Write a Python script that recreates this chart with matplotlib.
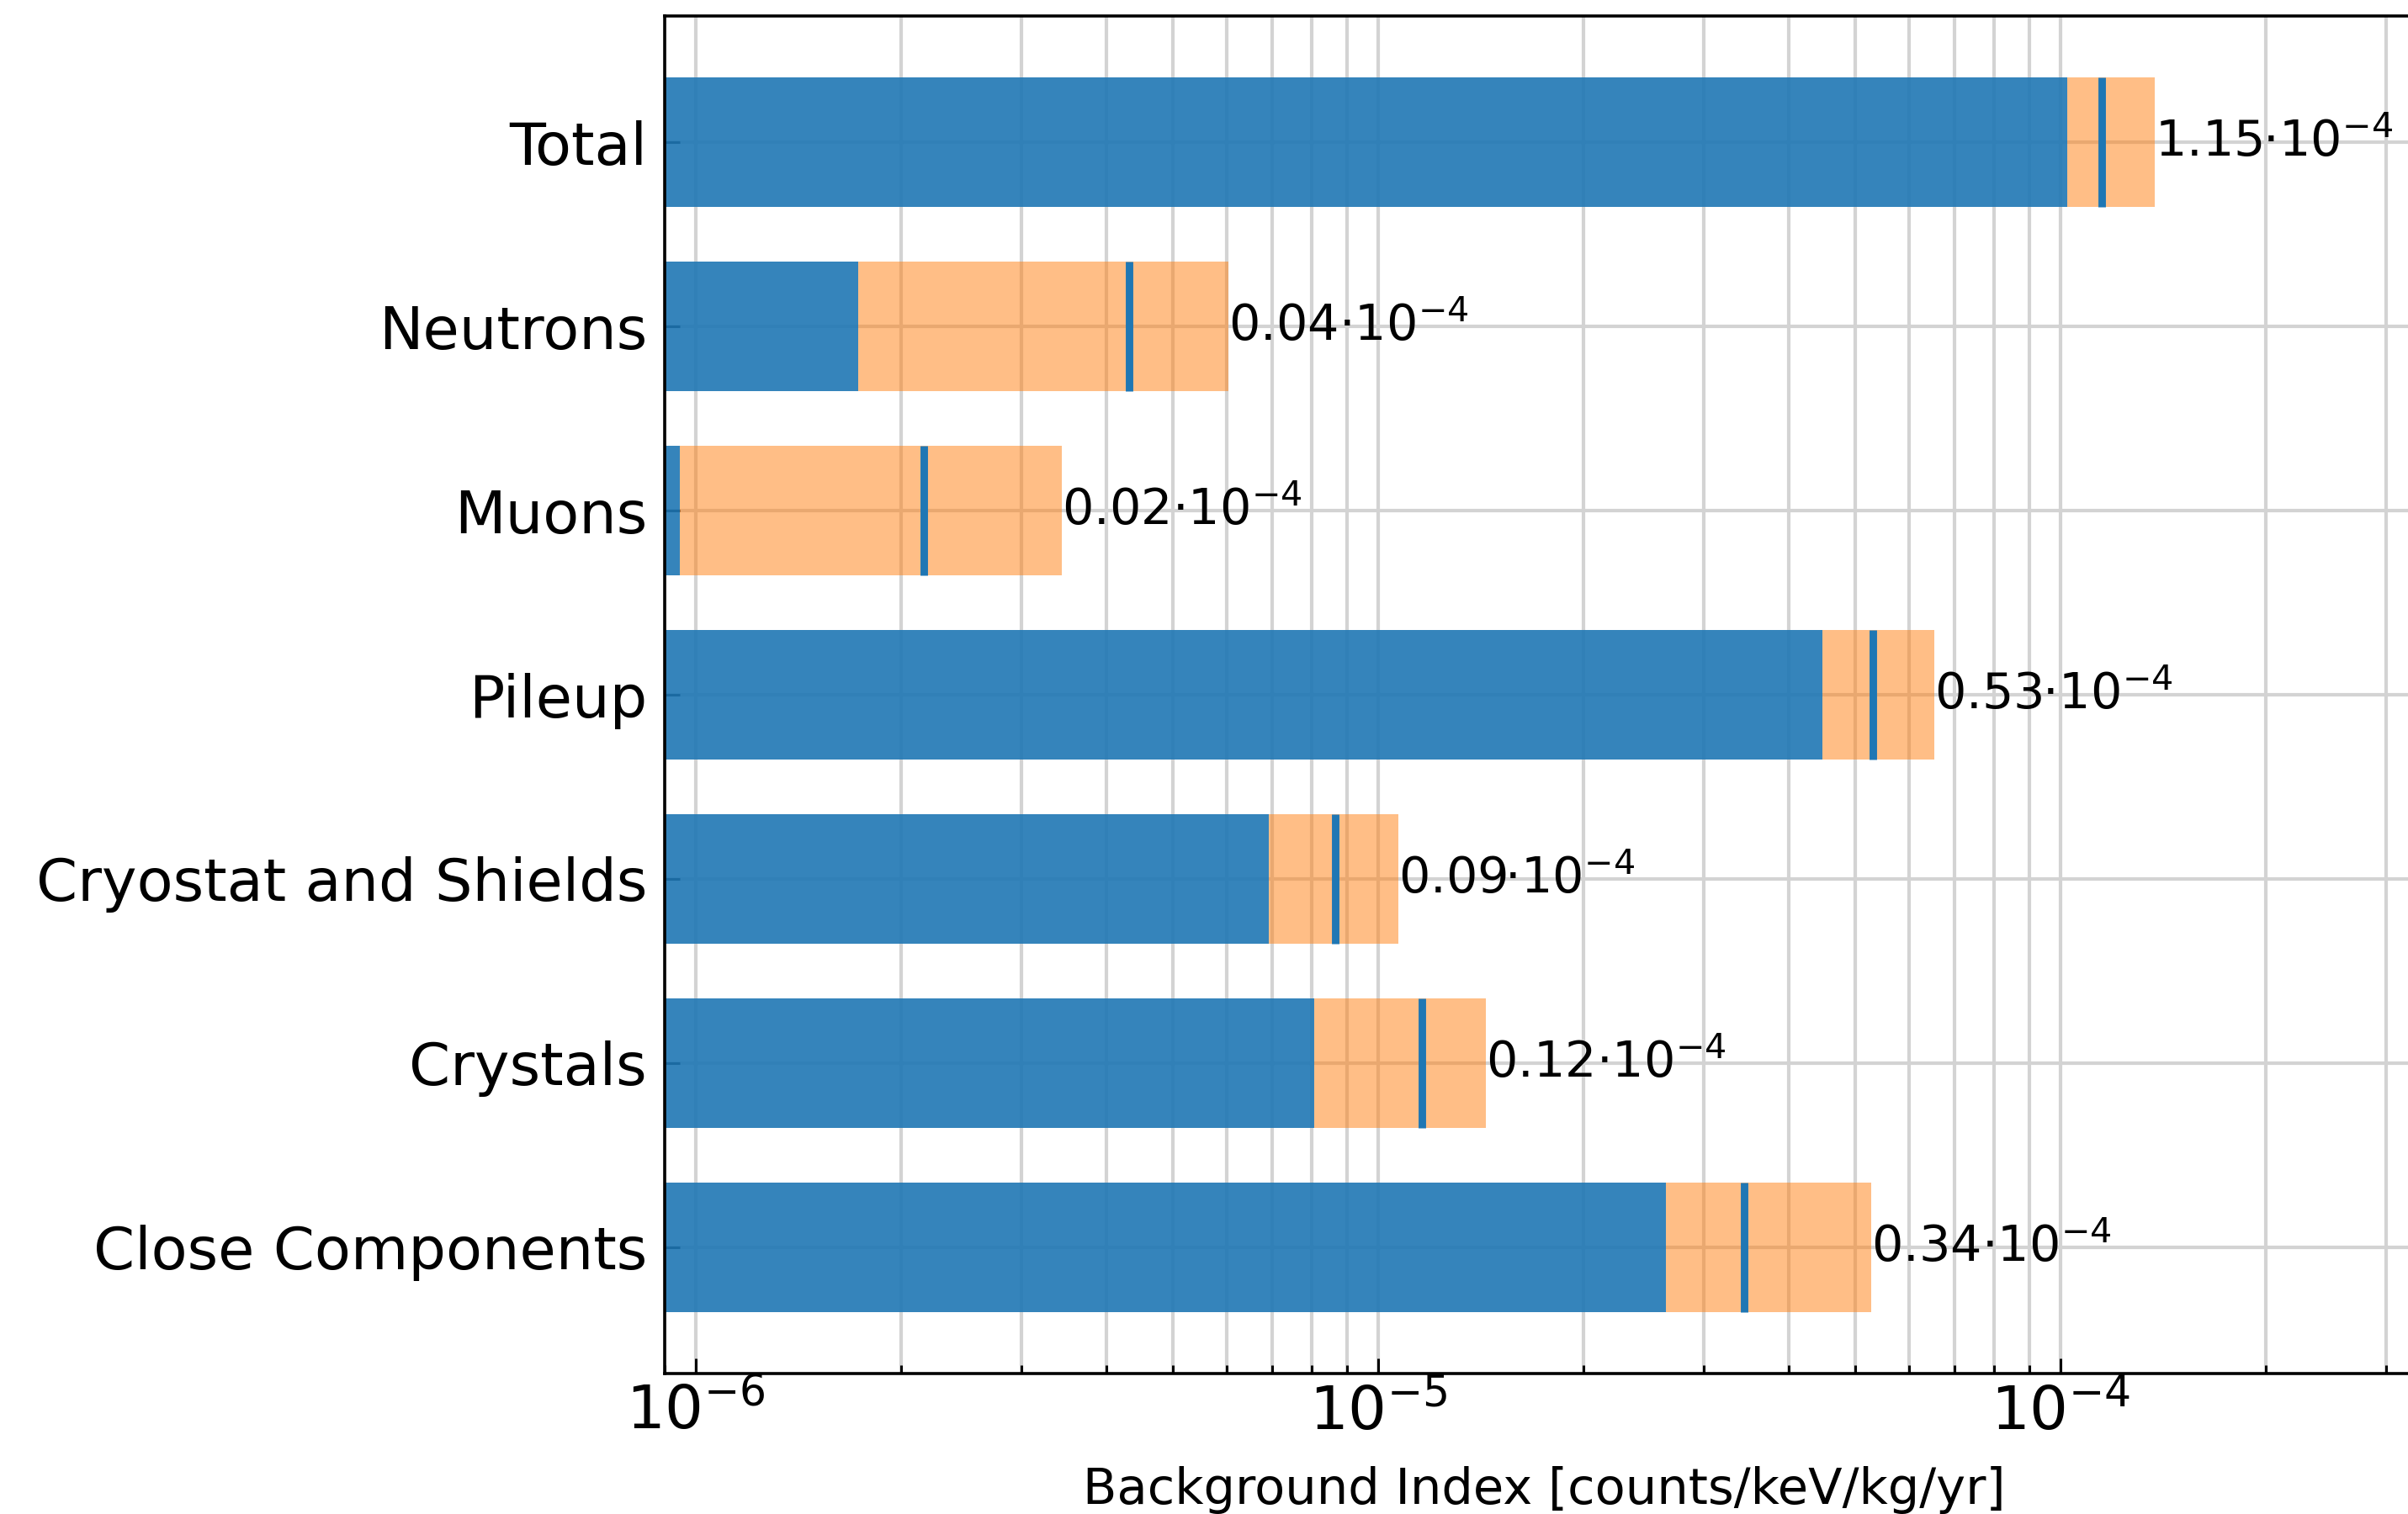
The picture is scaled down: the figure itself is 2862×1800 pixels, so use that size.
import numpy as np
import matplotlib
matplotlib.use('Agg')
from matplotlib import pyplot as plt

# background index per source, counts/keV/kg/yr
sources = ['Close Components', 'Crystals', 'Cryostat and Shields', 'Pileup',
           'Muons', 'Neutrons', 'Total']
central = [3.44e-5, 1.158e-5, 8.66e-6, 5.31e-5, 2.16e-6, 4.32e-6, 1.149e-4]
lower = [2.64e-5, 8.05e-6, 6.92e-6, 4.48e-5, 9.47e-7, 1.728e-6, 1.023e-4]
upper = [5.28e-5, 1.439e-5, 1.069e-5, 6.54e-5, 3.44e-6, 6.03e-6, 1.374e-4]


def plot_budget():
    fig = plt.figure(figsize=(14.31, 9), dpi=200)
    ax = fig.add_axes([0.276, 0.0928, 0.7303, 0.8966])
    ax.set_xscale('log')

    y = np.arange(len(sources))
    lo = np.array(lower)
    hi = np.array(upper)
    ax.barh(y, lo, height=0.7, color='tab:blue', alpha=0.9)
    ax.barh(y, hi - lo, left=lo, height=0.7, color='tab:orange', alpha=0.5)
    ax.vlines(central, y - 0.35, y + 0.35, color='tab:blue', lw=3.2)

    for yi, c, h in zip(y, central, upper):
        ax.text(h, yi, f"{c * 1e4:.2f}·10$^{{-4}}$", ha='left', va='center',
                fontsize=21.2)

    ax.set_yticks(y)
    ax.set_yticklabels(sources)
    ax.set_xlim(9e-7, 3.4e-4)
    ax.set_xlabel('Background Index [counts/keV/kg/yr]', fontsize=21.3,
                  labelpad=10)

    ax.set_axisbelow(True)
    ax.grid(True, which='both', axis='x', color='lightgray', lw=1.5)
    ax.grid(True, which='major', axis='y', color='lightgray', lw=1.5)
    ax.tick_params(which='both', direction='in', width=1.1)
    ax.tick_params(which='major', length=6.5, labelsize=26)
    ax.tick_params(which='minor', length=3.6)
    ax.tick_params(axis='y', pad=7.5, labelsize=25.3)
    for s in ax.spines.values():
        s.set_linewidth(1.3)

    fig.savefig('out.png', dpi=200)
    return


plot_budget()
